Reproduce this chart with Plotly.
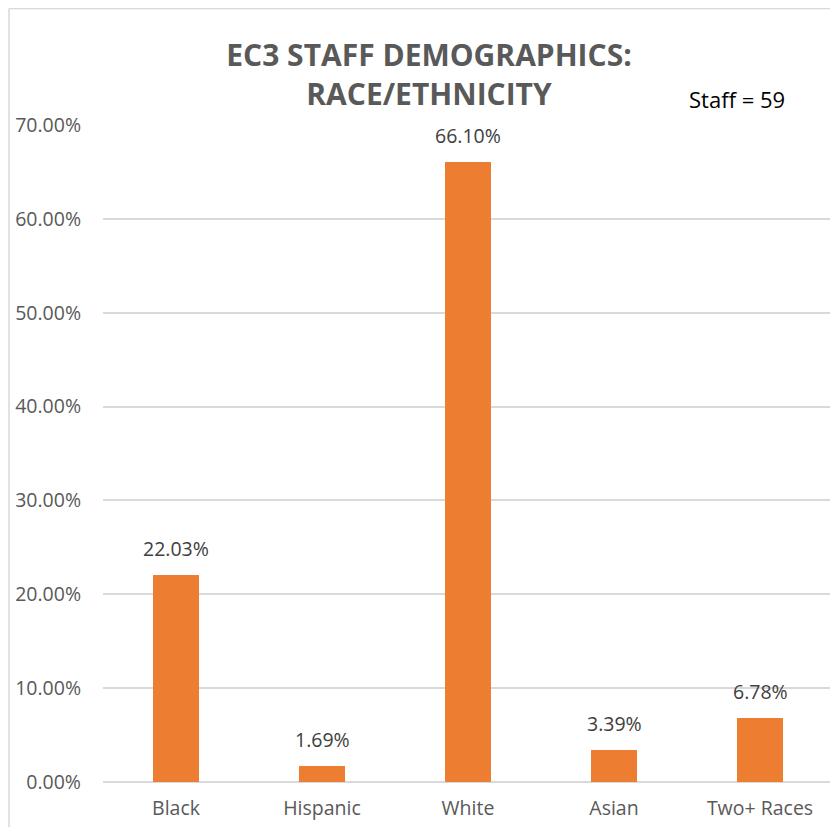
import plotly.graph_objects as go

categories = ["Black", "Hispanic", "White", "Asian", "Two+ Races"]
values = [22.03, 1.69, 66.10, 3.39, 6.78]
tick_vals = [0, 10, 20, 30, 40, 50, 60, 70]
tick_text = ["0.00%", "10.00%", "20.00%", "30.00%", "40.00%", "50.00%", "60.00%", "70.00%"]
labels = [f"{v:.2f}%" for v in values]

# page body has an 8px margin, so figure coords = page coords - 8
W, H = 830, 819
L, R, T, B = 95, 5, 117, 45
FONT = "Open Sans, Lato, sans-serif"

fig = go.Figure(go.Bar(
    x=categories, y=values, width=0.315,
    marker=dict(color="#ED7D31", line=dict(width=0)),
    hoverinfo="x+y",
))

pw = W - L - R
ph = H - T - B

ann = [dict(
    x=c, y=v, xref="x", yref="y", text=t, showarrow=False,
    xanchor="center", yanchor="bottom", yshift=11,
    font=dict(size=19.5, color="#404040", family=FONT),
) for c, v, t in zip(categories, values, labels)]

ann.append(dict(
    text="Staff = 59", xref="paper", yref="paper",
    x=(728.5 - L) / pw, y=(H - B - 91) / ph, xanchor="center", yanchor="middle",
    showarrow=False, font=dict(size=22, color="#000000", family=FONT),
))

fig.update_layout(
    width=W, height=H,
    margin=dict(l=L, r=R, t=T, b=B, autoexpand=False),
    paper_bgcolor="white", plot_bgcolor="white",
    bargap=0,
    showlegend=False,
    font=dict(family=FONT, color="#595959", size=19.5),
    title=dict(
        text="<b>EC3 STAFF DEMOGRAPHICS:<br>RACE/ETHNICITY</b>",
        x=421 / W, xanchor="center", y=1 - 58 / H, yanchor="middle",
        font=dict(size=30, color="#595959", family=FONT),
    ),
    xaxis=dict(showgrid=False, showline=False, ticks="", automargin=False,
               ticklabelstandoff=12,
               tickfont=dict(size=19.5, color="#595959")),
    yaxis=dict(range=[0, 70], tickvals=tick_vals, ticktext=tick_text, automargin=False,
               showgrid=True, gridcolor="#d9d9d9", gridwidth=1.5,
               zeroline=True, zerolinecolor="#d9d9d9", zerolinewidth=1.5,
               showline=False, ticks="", ticklabelstandoff=21,
               tickfont=dict(size=19.5, color="#595959")),
    annotations=ann,
    shapes=[
        dict(type="line", xref="paper", yref="paper",
             x0=(1 - L) / pw, x1=(1 - L) / pw, y0=(H - B - 0.5) / ph, y1=(H - B - 830) / ph,
             line=dict(color="#d9d9d9", width=1.5)),
        dict(type="line", xref="paper", yref="paper",
             x0=(1 - L) / pw, x1=(845 - L) / pw, y0=(H - B - 0.5) / ph, y1=(H - B - 0.5) / ph,
             line=dict(color="#d9d9d9", width=1.5)),
    ],
)

fig.write_html("out.html")
